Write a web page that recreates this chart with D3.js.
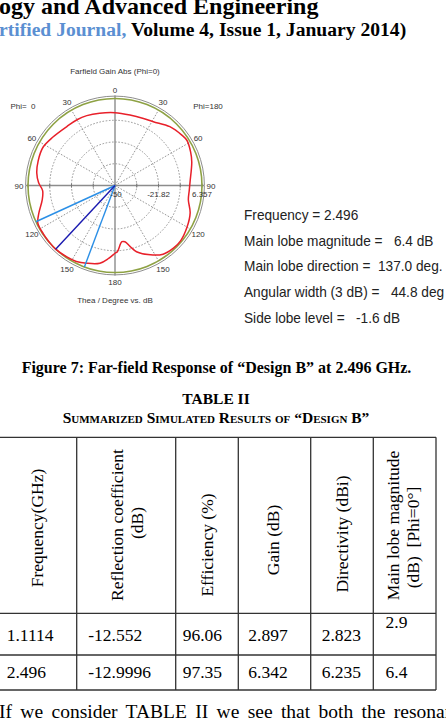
<!DOCTYPE html>
<html>
<head>
<meta charset="utf-8">
<script src="https://cdn.jsdelivr.net/npm/d3@7/dist/d3.min.js"></script>
<style>
  html, body { margin: 0; padding: 0; background: #fff; overflow: hidden; }
  svg { display: block; }
  text { white-space: pre; }
</style>
</head>
<body>
<svg width="446" height="722"></svg>
<script>
// polar pattern, gain in dB against theta (deg)
var phi0Theta   = [0, 12, 22, 30, 39, 52, 62, 72, 81, 88, 94, 101, 110, 116, 124, 131, 137, 146, 153, 160, 169, 175, 180];
var phi0Gain    = [-2.8, -2.1, -1.2, -0.8, -0.7, 1.0, 2.8, 2.3, 1.3, -0.5, -3.0, -2.0, 2.5, 5.6, 6.0, 6.2, 6.4, 5.8, 5.2, 3.6, 1.3, -2.6, -6.1];
var phi180Theta = [0, 12, 23, 31, 43, 53, 58, 66, 73, 87, 94, 101, 110, 120, 130, 137, 145, 153, 162, 166, 170, 173, 178, 180];
var phi180Gain  = [-2.8, -3.3, -2.8, -1.8, 2.1, 4.2, 5.0, 3.6, 2.0, -1.3, -1.8, -1.6, 1.8, 3.9, 5.6, 5.5, 4.3, 0.4, -4.9, -9.2, -13.0, -13.3, -7.1, -6.1];

var angleTicks = [0, 30, 60, 90, 120, 150, 180];
var radialTicks = [-50, -21.82, 6.357];
var mainLobeDir = 137.0;
var beamWidth = 44.8;
var mainLobeMag = 6.4;

var summaryLines = [
  "Frequency = 2.496",
  "Main lobe magnitude =   6.4 dB",
  "Main lobe direction =  137.0 deg.",
  "Angular width (3 dB) =   44.8 deg",
  "Side lobe level =   -1.6 dB"
];

var headerLines = [
  ["Frequency(GHz)"],
  ["Reflection coefficient", "(dB)"],
  ["Efficiency (%)"],
  ["Gain (dB)"],
  ["Directivity (dBi)"],
  ["Main lobe magnitude", "(dB)  [Phi=0\u00b0]"]
];
var row1 = ["1.1114", "-12.552", "96.06", "2.897", "2.823", "2.9"];
var row2 = ["2.496", "-12.9996", "97.35", "6.342", "6.235", "6.4"];

var svg = d3.select("svg");
svg.append("rect").attr("width", 446).attr("height", 722).attr("fill", "#fff");

// ---------- page header ----------
svg.append("text")
  .attr("x", -1).attr("y", 14)
  .style("font", "bold 24px 'Liberation Serif'")
  .text("ogy and Advanced Engineering");

var h2 = svg.append("text")
  .attr("x", -1).attr("y", 36)
  .style("font", "bold 19.6px 'Liberation Serif'");
h2.append("tspan").attr("fill", "#5b8fd2").text("rtified Journal,");
h2.append("tspan").attr("fill", "#000").text(" Volume 4, Issue 1, January 2014)");

// ---------- polar plot ----------
var cx = 115, cy = 185.5, R = 87;
var r = d3.scaleLinear().domain([-50, 6.357]).range([0, R]);
var rad = function(a) { return a * Math.PI / 180; };

var g = svg.append("g").attr("transform", "translate(" + cx + "," + cy + ")");
var chartFont = "8px 'Liberation Sans'";

svg.append("text")
  .attr("x", cx).attr("y", 74)
  .attr("text-anchor", "middle")
  .style("font", chartFont).attr("fill", "#333")
  .text("Farfield Gain Abs (Phi=0)");

// dashed rings
var ringVals = d3.range(1, 4).map(function(i) { return -50 + i * (6.357 + 50) / 4; });
g.selectAll("circle.ring")
  .data(ringVals).enter()
  .append("circle")
    .attr("r", function(d) { return r(d); })
    .attr("fill", "none")
    .attr("stroke", "#8a8a8a")
    .attr("stroke-width", 0.9)
    .attr("stroke-dasharray", "1.6,1.6");

// dashed spokes
var spokes = [30, 60, 120, 150, -30, -60, -120, -150];
g.selectAll("line.spoke")
  .data(spokes).enter()
  .append("line")
    .attr("x1", 0).attr("y1", 0)
    .attr("x2", function(d) { return R * Math.sin(rad(d)); })
    .attr("y2", function(d) { return -R * Math.cos(rad(d)); })
    .attr("stroke", "#8a8a8a")
    .attr("stroke-width", 0.9)
    .attr("stroke-dasharray", "1.6,1.6");

// solid axes
g.append("line").attr("x1", -R - 2).attr("x2", R + 2).attr("y1", 0).attr("y2", 0)
  .attr("stroke", "#8c8c8c").attr("stroke-width", 1.4);
g.append("line").attr("x1", 0).attr("x2", 0).attr("y1", -R - 3).attr("y2", R + 3)
  .attr("stroke", "#8c8c8c").attr("stroke-width", 1.4);

// small ticks on horizontal axis
var tickVals = ringVals.concat([6.357]);
g.selectAll("line.htick")
  .data(tickVals.concat(tickVals.map(function(d) { return -d; }))).enter()
  .append("line")
    .attr("x1", function(d, i) { return (i < tickVals.length ? 1 : -1) * r(tickVals[i % tickVals.length]); })
    .attr("x2", function(d, i) { return (i < tickVals.length ? 1 : -1) * r(tickVals[i % tickVals.length]); })
    .attr("y1", -2).attr("y2", 2)
    .attr("stroke", "#777").attr("stroke-width", 1);

// outer rings
g.append("circle").attr("r", R + 2.4).attr("fill", "none").attr("stroke", "#8e8e8e").attr("stroke-width", 1);
g.append("circle").attr("r", R).attr("fill", "none").attr("stroke", "#8ea244").attr("stroke-width", 1.6);

// pattern curve
var pts = phi0Theta.map(function(t, i) { return { a: -t, g: phi0Gain[i] }; });
for (var i = phi180Theta.length - 2; i >= 1; i--) {
  pts.push({ a: phi180Theta[i], g: phi180Gain[i] });
}
var radial = d3.lineRadial()
  .angle(function(d) { return rad(d.a); })
  .radius(function(d) { return r(d.g); })
  .curve(d3.curveCatmullRomClosed.alpha(0.5));

g.append("path")
  .attr("d", radial(pts))
  .attr("fill", "none")
  .attr("stroke", "#e8202a")
  .attr("stroke-width", 1.5);

// main lobe and 3 dB lines (Phi=0 side)
var beamLines = [
  { a: -(mainLobeDir - beamWidth / 2), c: "#2b8fe6" },
  { a: -(mainLobeDir + beamWidth / 2), c: "#2b8fe6" },
  { a: -mainLobeDir, c: "#1a1ab0" }
];
g.selectAll("line.beam")
  .data(beamLines).enter()
  .append("line")
    .attr("x1", 0).attr("y1", 0)
    .attr("x2", function(d) { return r(mainLobeMag) * Math.sin(rad(d.a)); })
    .attr("y2", function(d) { return -r(mainLobeMag) * Math.cos(rad(d.a)); })
    .attr("stroke", function(d) { return d.c; })
    .attr("stroke-width", 1.4);

// angle labels, both halves
var angleLabels = [];
angleTicks.forEach(function(t) {
  angleLabels.push(t);
  if (t !== 0 && t !== 180) angleLabels.push(-t);
});
g.selectAll("text.ang")
  .data(angleLabels).enter()
  .append("text")
    .attr("x", function(d) { return 96 * Math.sin(rad(d)); })
    .attr("y", function(d) { return -96 * Math.cos(rad(d)) + 3; })
    .attr("text-anchor", "middle")
    .style("font", chartFont).attr("fill", "#333")
    .text(function(d) { return Math.abs(d); });

// radial labels
g.selectAll("text.rad")
  .data(radialTicks).enter()
  .append("text")
    .attr("x", function(d) { return r(d) + (d === -50 ? 1 : 0); })
    .attr("y", 11)
    .attr("text-anchor", "middle")
    .style("font", chartFont).attr("fill", "#333")
    .text(function(d) { return d; });

svg.append("text").attr("x", 23).attr("y", 109).attr("text-anchor", "middle")
  .style("font", chartFont).attr("fill", "#333").text("Phi=  0");
svg.append("text").attr("x", 208).attr("y", 109).attr("text-anchor", "middle")
  .style("font", chartFont).attr("fill", "#333").text("Phi=180");
svg.append("text").attr("x", cx).attr("y", 303).attr("text-anchor", "middle")
  .style("font", chartFont).attr("fill", "#333").text("Thea / Degree vs. dB");

// summary box (narrow, tall face like the source)
svg.selectAll("text.sum")
  .data(summaryLines).enter()
  .append("text")
    .attr("transform", function(d, i) { return "translate(244," + (220 + i * 25.7) + ") scale(0.9,1)"; })
    .style("font", "15.2px 'Liberation Sans'")
    .attr("fill", "#222")
    .text(function(d) { return d; });

// ---------- caption ----------
svg.append("text").attr("x", 216.5).attr("y", 373).attr("text-anchor", "middle")
  .style("font", "bold 16px 'Liberation Serif'")
  .text("Figure 7: Far-field Response of \u201cDesign B\u201d at 2.496 GHz.");
svg.append("text").attr("x", 216).attr("y", 404).attr("text-anchor", "middle")
  .style("font", "bold 15.5px 'Liberation Serif'")
  .text("TABLE II");
svg.append("text").attr("x", 216).attr("y", 423).attr("text-anchor", "middle")
  .style("font", "bold 15.5px 'Liberation Serif'")
  .style("font-variant", "small-caps")
  .text("Summarized Simulated Results of \u201cDesign B\u201d");

// ---------- table ----------
var colX = [0, 76.7, 175.7, 238.3, 310.7, 373.3, 436];
var rowY = [437.3, 613.3, 655, 690];
var tbl = svg.append("g").attr("stroke", "#333").attr("stroke-width", 1.3);
rowY.forEach(function(y) {
  tbl.append("line").attr("x1", 0).attr("x2", 436).attr("y1", y).attr("y2", y);
});
colX.slice(1).forEach(function(x) {
  tbl.append("line").attr("x1", x).attr("x2", x).attr("y1", rowY[0]).attr("y2", rowY[3]);
});

// rotated header text: per-line x centre and y centre
var headerPos = [
  [[36.7, 528]],
  [[116.7, 525], [136.7, 523]],
  [[206.7, 545]],
  [[273.3, 540]],
  [[341.7, 534]],
  [[393.3, 525.5], [413.3, 537.5]]
];
headerLines.forEach(function(lines, c) {
  lines.forEach(function(s, k) {
    var p = headerPos[c][k];
    svg.append("text")
      .attr("transform", "translate(" + (p[0] + 6) + "," + p[1] + ") rotate(-90)")
      .attr("text-anchor", "middle")
      .style("font", "17.5px 'Liberation Serif'")
      .text(s);
  });
});

var cellX = [6.7, 88.3, 182.7, 248.3, 321.7, 385.5];
svg.selectAll("text.r1")
  .data(row1).enter()
  .append("text")
    .attr("x", function(d, i) { return cellX[i]; })
    .attr("y", function(d, i) { return i === 5 ? 628 : 640.5; })
    .style("font", "17.5px 'Liberation Serif'")
    .text(function(d) { return d; });
svg.selectAll("text.r2")
  .data(row2).enter()
  .append("text")
    .attr("x", function(d, i) { return cellX[i]; })
    .attr("y", 677.7)
    .style("font", "17.5px 'Liberation Serif'")
    .text(function(d) { return d; });

svg.append("text").attr("x", -1).attr("y", 717.5)
  .style("font", "19.5px 'Liberation Serif'")
  .style("word-spacing", "3.5px")
  .text("If we consider TABLE II we see that both the resonant");
</script>
</body>
</html>
